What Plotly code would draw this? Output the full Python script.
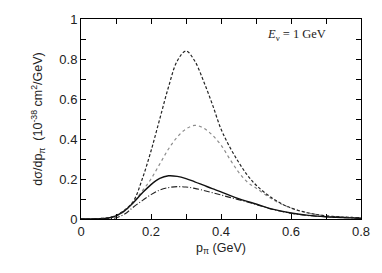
import plotly.graph_objects as go

# momentum grid (GeV)
p_pi = [0.0, 0.05, 0.075, 0.1, 0.125, 0.15, 0.175, 0.2, 0.225, 0.25, 0.275, 0.3,
        0.325, 0.35, 0.375, 0.4, 0.425, 0.45, 0.475, 0.5, 0.55, 0.6, 0.65, 0.7,
        0.75, 0.8]

dashed = [0.0, 0.002, 0.006, 0.018, 0.045, 0.09, 0.2, 0.34, 0.5, 0.66, 0.79, 0.84,
          0.79, 0.69, 0.575, 0.45, 0.36, 0.285, 0.22, 0.17, 0.1, 0.055, 0.03, 0.016,
          0.01, 0.006]

dotted = [0.0, 0.002, 0.005, 0.015, 0.04, 0.085, 0.14, 0.2, 0.275, 0.35, 0.41, 0.45,
          0.468, 0.455, 0.42, 0.37, 0.3, 0.235, 0.185, 0.155, 0.095, 0.055, 0.03, 0.016,
          0.01, 0.006]

solid = [0.0, 0.001, 0.004, 0.016, 0.042, 0.082, 0.13, 0.172, 0.203, 0.216, 0.213, 0.202,
         0.186, 0.169, 0.152, 0.136, 0.118, 0.102, 0.088, 0.075, 0.048, 0.03, 0.018, 0.011,
         0.007, 0.004]

dashdot = [0.0, 0.0, 0.001, 0.006, 0.025, 0.06, 0.092, 0.122, 0.145, 0.157, 0.162, 0.16,
           0.153, 0.143, 0.132, 0.12, 0.108, 0.097, 0.085, 0.073, 0.047, 0.029, 0.017, 0.011,
           0.007, 0.004]

x_ticks = [0.0, 0.1, 0.2, 0.3, 0.4, 0.5, 0.6, 0.7, 0.8]
x_ticktext = ["0", "", "0.2", "", "0.4", "", "0.6", "", "0.8"]
y_ticks = [0.0, 0.1, 0.2, 0.3, 0.4, 0.5, 0.6, 0.7, 0.8, 0.9, 1.0]
y_ticktext = ["0", "", "0.2", "", "0.4", "", "0.6", "", "0.8", "", "1"]

fig = go.Figure()
fig.add_trace(go.Scatter(x=p_pi, y=dotted, mode="lines", line_shape="spline",
                         line=dict(color="#8a8a8a", width=1.2, dash="dot")))
fig.add_trace(go.Scatter(x=p_pi, y=dashdot, mode="lines", line_shape="spline",
                         line=dict(color="#222", width=1.1, dash="6px,2px,1px,2px")))
fig.add_trace(go.Scatter(x=p_pi, y=solid, mode="lines", line_shape="spline",
                         line=dict(color="#111", width=1.4)))
fig.add_trace(go.Scatter(x=p_pi, y=dashed, mode="lines", line_shape="spline",
                         line=dict(color="#222", width=1.2, dash="3px,2px")))

axis_common = dict(showgrid=False, zeroline=False, showline=True, linecolor="black",
                   linewidth=1, mirror="ticks", ticks="inside", ticklen=5,
                   tickcolor="black", tickwidth=1,
                   tickfont=dict(family="Liberation Sans, Arial", size=13, color="#222"))

fig.update_xaxes(range=[0, 0.8], tickvals=x_ticks, ticktext=x_ticktext,
                 title=dict(text="p<sub>π</sub> (GeV)", standoff=5,
                            font=dict(family="Liberation Sans, Arial", size=12.5, color="#222")),
                 **axis_common)
fig.update_yaxes(range=[0, 1], tickvals=y_ticks, ticktext=y_ticktext,
                 title=dict(text="dσ/dp<sub>π</sub>  (10<sup>-38</sup> cm<sup>2</sup>/GeV)",
                            standoff=13,
                            font=dict(family="Liberation Sans, Arial", size=12.5, color="#222")),
                 **axis_common)

fig.add_annotation(x=0.882, y=0.921, xref="paper", yref="paper", xanchor="right", yanchor="middle",
                   showarrow=False,
                   text="<i>E</i><sub>ν</sub> = 1 GeV",
                   font=dict(family="Liberation Serif, Times New Roman", size=12.5, color="#222"))

fig.update_layout(width=382, height=273, showlegend=False,
                  margin=dict(l=81, r=15, t=16, b=54),
                  plot_bgcolor="white", paper_bgcolor="white")

# remove the page's default body margin so the figure fills the window exactly
fig.write_html("out.html", config={"displayModeBar": False},
               post_script="document.body.style.margin='0';document.body.style.overflow='hidden';")
